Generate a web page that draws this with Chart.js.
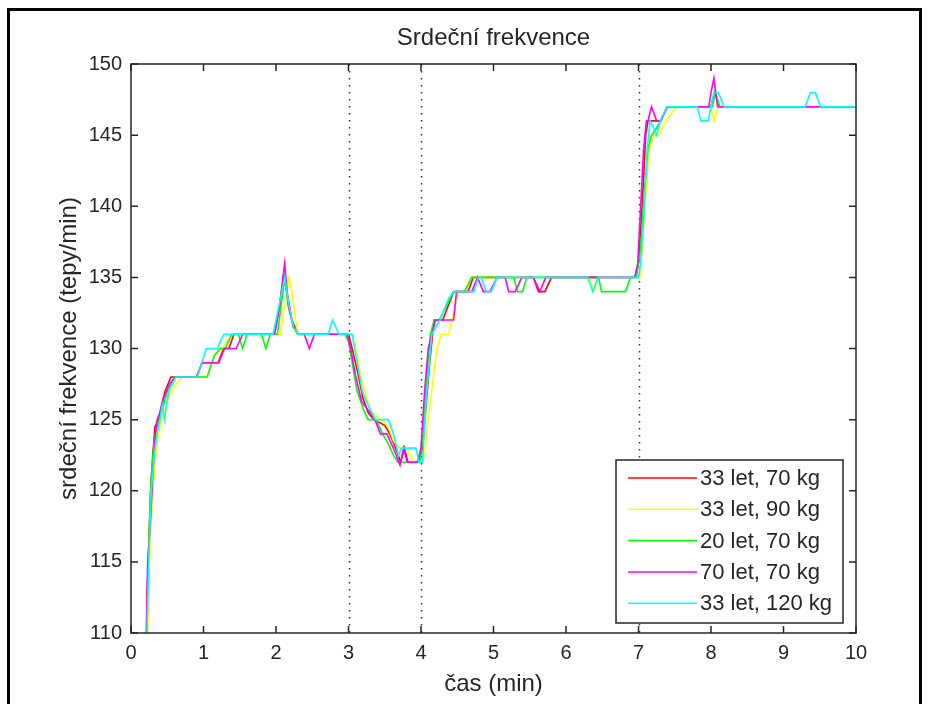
<!DOCTYPE html>
<html>
<head>
<meta charset="utf-8">
<script src="https://cdn.jsdelivr.net/npm/chart.js@4.4.1/dist/chart.umd.min.js"></script>
<style>
  html, body { margin: 0; padding: 0; background: #fff; overflow: hidden; }
  #wrap { position: relative; width: 931px; height: 704px; }
  #frame { position: absolute; left: 7px; top: 8px; width: 915px; height: 800px; box-sizing: border-box;
           border: 3px solid #000; pointer-events: none; }
  canvas { position: absolute; left: 0; top: 0; }
</style>
</head>
<body>
<div id="wrap">
  <canvas id="myChart" width="931" height="704"></canvas>
  <div id="frame"></div>
</div>
<script>
// data (time in min, heart rate in beats/min)
const seriesLabels = ['33 let, 70 kg', '33 let, 90 kg', '20 let, 70 kg', '70 let, 70 kg', '33 let, 120 kg'];
const seriesColors = ['#ff0000', '#ffff00', '#00ff00', '#ff00ff', '#00ffff'];

const tRed  = [0.20, 0.22, 0.25, 0.27, 0.30, 0.33, 0.38, 0.42, 0.47, 0.55, 0.90, 0.98, 1.20, 1.28, 1.35, 1.42, 1.98, 2.05, 2.10, 2.15, 2.22, 2.30,
               3.00, 3.05, 3.12, 3.20, 3.27, 3.35, 3.50, 3.57, 3.65, 3.72, 3.77, 3.82, 3.97, 4.02, 4.07, 4.12, 4.18, 4.30, 4.45, 4.65, 4.72,
               5.55, 5.62, 5.71, 5.80, 6.95, 7.00, 7.05, 7.10, 7.13, 7.30, 7.40, 8.00, 8.05, 8.12, 10.0];
const hrRed = [96, 112, 117, 120, 122.5, 124.5, 125, 126, 127, 128, 128, 129, 129, 130, 130, 131, 131, 133, 135, 134, 132, 131,
               131, 130, 128.5, 126.5, 125.5, 125, 124.6, 124, 123, 122, 123, 122, 122, 123, 126, 129, 132, 132, 134, 134, 135,
               135, 134, 134, 135, 135, 136, 140, 145, 146, 146, 147, 147, 148, 147, 147];

const tYellow  = [0.20, 0.23, 0.26, 0.30, 0.35, 0.40, 0.45, 0.55, 0.70, 1.05, 1.15, 1.25, 1.40, 2.06, 2.12, 2.18, 2.22, 2.27, 2.31,
                  3.05, 3.10, 3.17, 3.25, 3.32, 3.45, 3.55, 3.62, 3.70, 3.80, 3.90, 4.02, 4.06, 4.10, 4.17, 4.22, 4.28, 4.38, 4.45, 4.52, 4.62, 4.70,
                  6.33, 6.38, 6.43, 7.02, 7.05, 7.10, 7.15, 7.21, 7.28, 7.38, 7.45, 7.53, 8.00, 8.04, 8.10, 10.0];
const hrYellow = [95, 110, 116, 120, 123, 124.5, 125.5, 127, 128, 128, 129.5, 130, 131, 131, 133, 135, 134, 132, 131,
                  131, 130, 128, 126.5, 125.5, 125, 124.5, 123.5, 123, 123, 122, 122, 123, 125, 128, 130, 131, 131, 132.5, 134, 134, 135,
                  135, 134, 135, 135, 137, 141, 144, 145, 145, 146, 146.5, 147, 147, 146, 147, 147];

const tGreen  = [0.20, 0.22, 0.25, 0.28, 0.32, 0.36, 0.42, 0.50, 0.60, 1.05, 1.15, 1.23, 1.30, 1.39, 1.48, 1.54, 1.60, 1.80, 1.86, 1.92,
                 2.02, 2.07, 2.12, 2.17, 2.24, 2.30, 2.95, 3.00, 3.05, 3.12, 3.20, 3.27, 3.38, 3.47, 3.55, 3.62, 3.68, 3.98,
                 4.03, 4.08, 4.13, 4.18, 4.25, 4.35, 4.45, 4.60, 4.70, 5.28, 5.33, 5.40, 5.46, 6.45, 6.49, 6.82, 6.89, 6.97,
                 7.03, 7.08, 7.13, 7.18, 7.25, 7.30, 7.40, 8.02, 8.06, 8.12, 10.0];
const hrGreen = [98, 112, 117, 121, 123.5, 124.5, 125.5, 127, 128, 128, 129.5, 130, 130, 131, 131, 130, 131, 131, 130, 131,
                 131, 133, 135, 133, 131.5, 131, 131, 130.5, 129, 127, 125.8, 125, 125, 124, 123.3, 122.5, 122, 122,
                 124, 128, 131, 132, 132, 133, 134, 134, 135, 135, 134, 134, 135, 135, 134, 134, 135, 135,
                 137, 141, 144, 145, 145.5, 146, 147, 147, 148, 147, 147];

const tMagenta  = [0.19, 0.21, 0.23, 0.26, 0.30, 0.33, 0.36, 0.40, 0.45, 0.53, 0.61, 0.91, 0.98, 1.21, 1.29, 1.45, 1.54, 1.98, 2.05, 2.12,
                   2.17, 2.24, 2.31, 2.39, 2.46, 2.53, 2.98, 3.03, 3.10, 3.18, 3.22, 3.30, 3.38, 3.44, 3.53, 3.60, 3.65, 3.71, 3.76,
                   3.81, 3.95, 4.00, 4.05, 4.10, 4.20, 4.45, 4.49, 4.70, 4.78, 4.86, 4.95, 5.05, 5.16, 5.21, 5.30, 5.39, 5.55, 5.64,
                   5.72, 6.95, 6.99, 7.03, 7.07, 7.11, 7.13, 7.18, 7.25, 7.31, 7.39, 7.97, 8.00, 8.04, 8.09, 10.0];
const hrMagenta = [97, 110, 115, 117, 121, 123.5, 125, 125.5, 126.5, 127.5, 128, 128, 129, 129, 130, 130, 131, 131, 133, 136,
                   133, 131.5, 131, 131, 130, 131, 131, 130, 128, 126.3, 126, 125.5, 124.8, 124, 124, 123.2, 122.6, 121.8, 123,
                   122, 122, 123, 127, 130, 132, 132, 134, 134, 135, 134, 134, 135, 135, 134, 134, 135, 135, 134,
                   135, 135, 136, 140, 144, 146, 146, 147, 146, 146, 147, 147, 148, 149, 147, 147];

const tCyan  = [0.20, 0.22, 0.25, 0.28, 0.32, 0.36, 0.40, 0.43, 0.46, 0.52, 0.62, 0.91, 1.04, 1.19, 1.28, 1.96, 2.04, 2.12, 2.18, 2.24,
                2.31, 2.72, 2.78, 2.87, 3.05, 3.12, 3.19, 3.27, 3.37, 3.55, 3.62, 3.69, 3.73, 3.93, 3.97, 4.02, 4.08, 4.15, 4.26,
                4.30, 4.38, 4.45, 4.73, 4.79, 4.83, 4.90, 4.97, 5.05, 6.30, 6.37, 6.44, 7.00, 7.03, 7.07, 7.12, 7.16, 7.21, 7.25,
                7.30, 7.39, 7.81, 7.86, 7.96, 8.00, 8.04, 8.10, 8.18, 9.30, 9.37, 9.44, 9.51, 10.0];
const hrCyan = [96, 110, 116, 120, 122.5, 124, 125, 126, 125, 127, 128, 128, 130, 130, 131, 131, 133, 135, 133, 131.5,
                131, 131, 132, 131, 131, 129, 127, 126, 125, 125, 124, 122.5, 123, 123, 122, 122, 127, 131, 132,
                132.5, 133.5, 134, 134, 135, 135, 134, 134, 135, 135, 134, 135, 135, 136, 139, 144, 146, 145.5, 145,
                146, 147, 147, 146, 146, 147, 148, 148, 147, 147, 148, 148, 147, 147];

const seriesTimes = [tRed, tYellow, tGreen, tMagenta, tCyan];
const seriesValues = [hrRed, hrYellow, hrGreen, hrMagenta, hrCyan];

const markerTimes = [3, 4, 7];        // dotted phase boundaries
const xTicks = [0, 1, 2, 3, 4, 5, 6, 7, 8, 9, 10];
const yTicks = [110, 115, 120, 125, 130, 135, 140, 145, 150];

const FONT = "'Liberation Sans', Arial, sans-serif";
const INK = '#262626';

const matlabAxes = {
    id: 'matlabAxes',
    beforeDatasetsDraw(chart) {
        const { ctx, chartArea: a, scales: { x } } = chart;
        ctx.save();
        ctx.strokeStyle = '#333';
        ctx.lineWidth = 1.5;
        ctx.setLineDash([1.5, 5.5]);
        markerTimes.forEach(t => {
            const px = Math.round(x.getPixelForValue(t)) + 0.5;
            ctx.beginPath();
            ctx.moveTo(px, a.top);
            ctx.lineTo(px, a.bottom);
            ctx.stroke();
        });
        ctx.restore();
    },
    afterDatasetsDraw(chart) {
        const { ctx, chartArea: a, scales: { x, y } } = chart;
        const tl = 7;
        ctx.save();
        ctx.strokeStyle = INK;
        ctx.lineWidth = 1.5;
        ctx.strokeRect(a.left, a.top, a.right - a.left, a.bottom - a.top);
        ctx.beginPath();
        xTicks.forEach(v => {
            const px = x.getPixelForValue(v);
            ctx.moveTo(px, a.bottom); ctx.lineTo(px, a.bottom - tl);
            ctx.moveTo(px, a.top); ctx.lineTo(px, a.top + tl);
        });
        yTicks.forEach(v => {
            const py = y.getPixelForValue(v);
            ctx.moveTo(a.left, py); ctx.lineTo(a.left + tl, py);
            ctx.moveTo(a.right, py); ctx.lineTo(a.right - tl, py);
        });
        ctx.stroke();

        // legend box, bottom right inside the axes
        const w = 227, h = 163, rowH = 31.3;
        const lx = a.right - 13 - w, ly = a.bottom - 10 - h;
        ctx.fillStyle = '#fff';
        ctx.fillRect(lx, ly, w, h);
        ctx.lineWidth = 1.5;
        ctx.strokeStyle = INK;
        ctx.strokeRect(lx, ly, w, h);
        ctx.font = '22px ' + FONT;
        ctx.textBaseline = 'middle';
        chart.data.datasets.forEach((ds, i) => {
            const ry = ly + 18 + i * rowH;
            ctx.strokeStyle = ds.borderColor;
            ctx.lineWidth = 1.5;
            ctx.beginPath();
            ctx.moveTo(lx + 12, ry);
            ctx.lineTo(lx + 81, ry);
            ctx.stroke();
            ctx.fillStyle = INK;
            ctx.fillText(ds.label, lx + 84, ry + 1);
        });
        ctx.restore();
    }
};

// later series are plotted over earlier ones (cyan on top)
const datasets = seriesLabels.map((label, i) => ({
    label: label,
    data: seriesTimes[i].map((t, k) => ({ x: t, y: seriesValues[i][k] })),
    borderColor: seriesColors[i],
    backgroundColor: seriesColors[i],
    borderWidth: 1.6,
    pointRadius: 0,
    tension: 0,
    fill: false,
    order: seriesLabels.length - i
}));

const ctx = document.getElementById('myChart').getContext('2d');
new Chart(ctx, {
    type: 'line',
    data: { datasets },
    options: {
        responsive: false,
        animation: false,
        devicePixelRatio: 1,
        layout: { padding: { left: 0, right: 75, top: 0, bottom: 0 } },
        plugins: {
            legend: { display: false },
            title: { display: false },
            tooltip: { enabled: false }
        },
        scales: {
            x: {
                type: 'linear', position: 'bottom', min: 0, max: 10,
                afterBuildTicks: s => { s.ticks = xTicks.map(v => ({ value: v })); },
                ticks: { color: INK, font: { family: FONT, size: 20 }, padding: 8, maxRotation: 0 },
                grid: { display: false, drawTicks: false },
                border: { display: false },
                title: { display: true, text: 'čas (min)', color: INK, font: { family: FONT, size: 24 }, padding: { top: 0, bottom: 5 } },
                afterFit: s => { s.height = 71; }
            },
            xTop: {
                type: 'linear', position: 'top', min: 0, max: 10,
                ticks: { display: false },
                grid: { display: false, drawTicks: false },
                border: { display: false },
                title: { display: true, text: 'Srdeční frekvence', color: INK, font: { family: FONT, size: 24 }, padding: { top: 24, bottom: 0 } },
                afterFit: s => { s.height = 64; }
            },
            y: {
                type: 'linear', position: 'left', min: 110, max: 150,
                afterBuildTicks: s => { s.ticks = yTicks.map(v => ({ value: v })); },
                ticks: { color: INK, font: { family: FONT, size: 20 }, padding: 9 },
                grid: { display: false, drawTicks: false },
                border: { display: false },
                title: { display: true, text: 'srdeční frekvence (tepy/min)', color: INK, font: { family: FONT, size: 24 }, padding: { top: 55, bottom: 0 } },
                afterFit: s => { s.width = 131; }
            }
        }
    },
    plugins: [matlabAxes]
});
</script>
</body>
</html>
